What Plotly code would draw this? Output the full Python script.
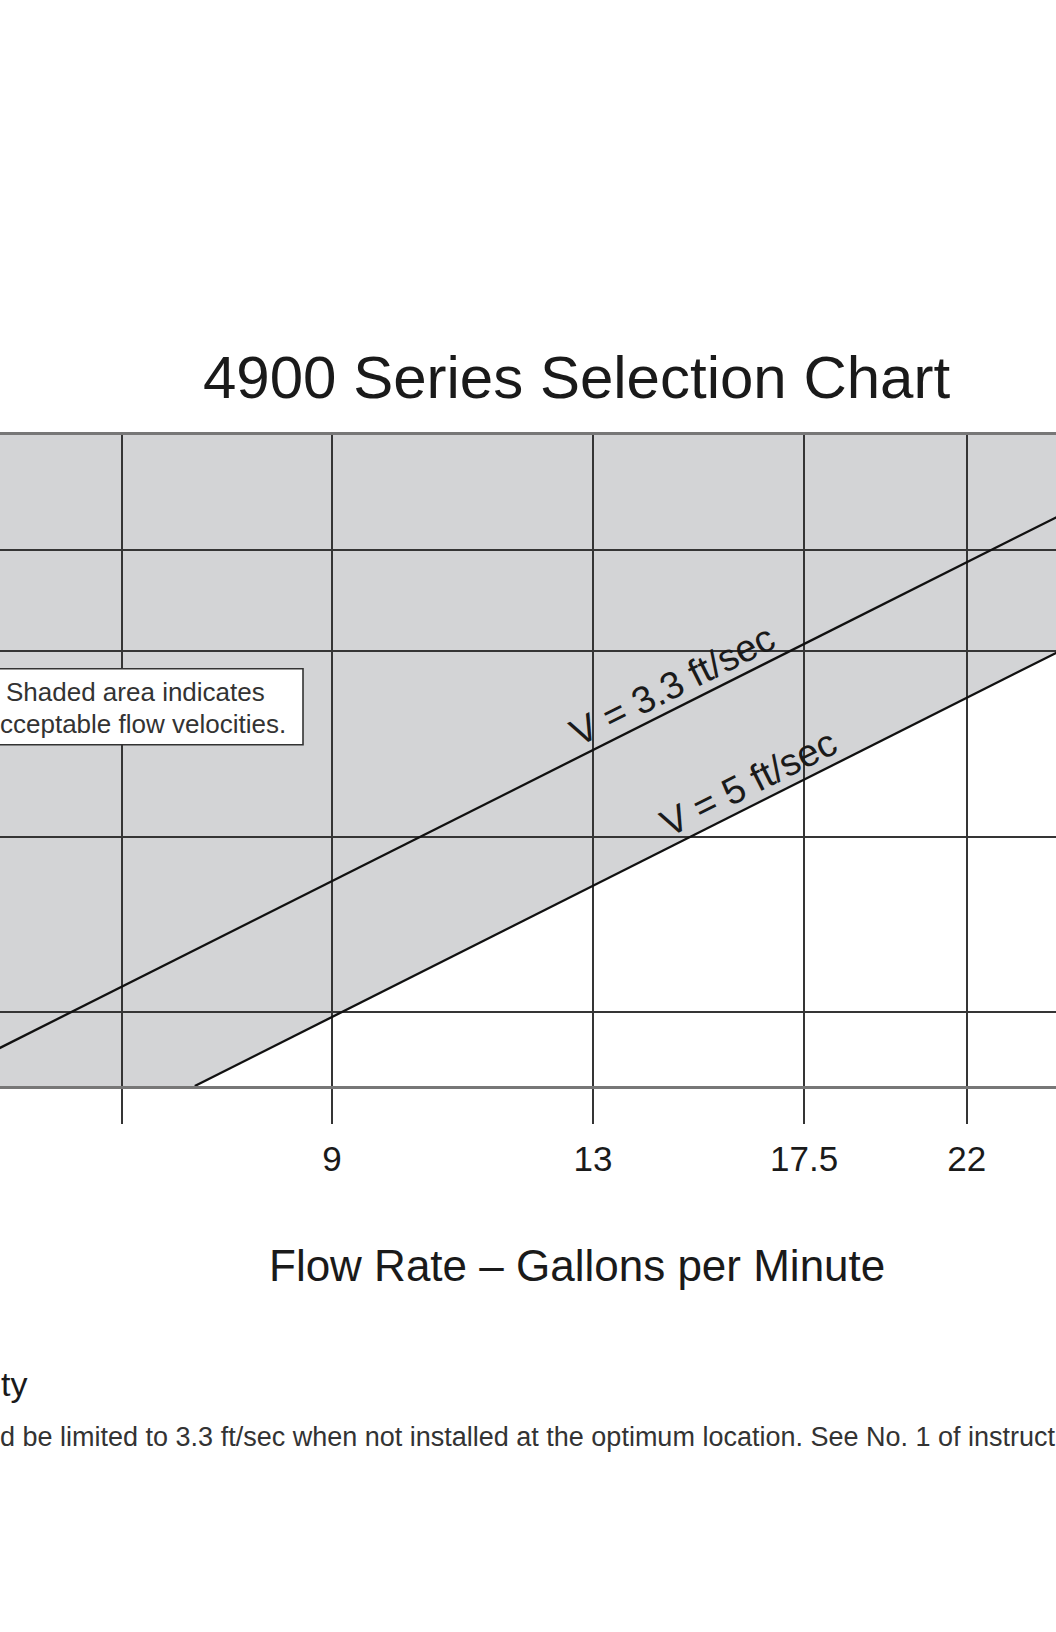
import math
import plotly.graph_objects as go

# ---------------- data ----------------
flow_ticks = [6.7, 9, 13, 17.5, 22]
flow_tick_text = ["", "9", "13", "17.5", "22"]
size_grid = [0.824, 1.053, 1.366, 1.575]          # horizontal grid positions (labels are off-frame)
v33_flow = [5.6, 25.0]
v33_size = [0.781, 1.649]
v5_flow = [7.42, 25.0]
v5_size = [0.743, 1.364]
line_labels = ["V = 3.3 ft/sec", "V = 5 ft/sec"]
label_flow = [14.75, 16.40]
title_text = "4900 Series Selection Chart"
xaxis_title = "Flow Rate – Gallons per Minute"
legend_lines = ["Shaded area indicates", "cceptable flow velocities."]
heading_text = "ty"
note_text = "d be limited to 3.3 ft/sec when not installed at the optimum location. See No. 1 of instruct"

# ---------------- layout constants ----------------
W, H = 1056, 1632
TOP, BOTTOM = 435, 1086.5
X_RANGE = [5.64, 24.95]
Y_RANGE = [0.743, 1.849]
FONT = "Liberation Sans, Arial, Helvetica, sans-serif"
GRID = "#353535"
SHADE = "#d3d4d6"
INK = "#1a1a1a"

lx = [math.log10(v) for v in X_RANGE]
ly = [math.log10(v) for v in Y_RANGE]
kx = W / (lx[1] - lx[0])
ky = (BOTTOM - TOP) / (ly[1] - ly[0])


def py2paper(py):
    return (BOTTOM - py) / (BOTTOM - TOP)


def px2paper(px):
    return px / W


def on_line(flows, sizes, q):
    a = (math.log10(q) - math.log10(flows[0])) / (math.log10(flows[1]) - math.log10(flows[0]))
    return math.log10(sizes[0]) + a * (math.log10(sizes[1]) - math.log10(sizes[0]))


fig = go.Figure()

for fl, sz in [(v33_flow, v33_size), (v5_flow, v5_size)]:
    fig.add_trace(go.Scatter(x=fl, y=sz, mode="lines",
                             line=dict(color="#111111", width=2.3),
                             hoverinfo="skip", showlegend=False))

# white (unacceptable) region below the 5 ft/sec line, beneath the grid
path = "M {},{} L {},{} L {},{} Z".format(v5_flow[0], v5_size[0], v5_flow[1], v5_size[1],
                                         v5_flow[1], Y_RANGE[0])
shapes = [
    dict(type="path", path=path, xref="x", yref="y", fillcolor="white",
         line=dict(width=0), layer="below"),
    dict(type="rect", xref="paper", yref="paper", x0=-0.06, x1=px2paper(303),
         y0=py2paper(745), y1=py2paper(669), fillcolor="white",
         line=dict(color="#333333", width=1.6), layer="above"),
]

annotations = []
for i, (fl, sz) in enumerate([(v33_flow, v33_size), (v5_flow, v5_size)]):
    slope = (math.log10(sz[1]) - math.log10(sz[0])) / (math.log10(fl[1]) - math.log10(fl[0]))
    ang = math.degrees(math.atan(slope * ky / kx))
    off = 22
    annotations.append(dict(
        x=math.log10(label_flow[i]), y=on_line(fl, sz, label_flow[i]), xref="x", yref="y",
        text=line_labels[i], showarrow=False, textangle=-ang,
        xshift=-off * math.sin(math.radians(ang)), yshift=off * math.cos(math.radians(ang)),
        font=dict(family=FONT, size=38, color=INK)))

annotations += [
    dict(x=px2paper(576.5), y=py2paper(377), xref="paper", yref="paper", text=title_text,
         showarrow=False, xanchor="center", yanchor="middle",
         font=dict(family=FONT, size=60, color=INK)),
    dict(x=px2paper(577), y=py2paper(1266), xref="paper", yref="paper", text=xaxis_title,
         showarrow=False, xanchor="center", yanchor="middle",
         font=dict(family=FONT, size=44, color=INK)),
    dict(x=px2paper(4), y=py2paper(692), xref="paper", yref="paper", text=legend_lines[0],
         showarrow=False, xanchor="left", yanchor="middle",
         font=dict(family=FONT, size=26, color="#333333")),
    dict(x=px2paper(288), y=py2paper(724), xref="paper", yref="paper", text=legend_lines[1],
         showarrow=False, xanchor="right", yanchor="middle",
         font=dict(family=FONT, size=26, color="#333333")),
    dict(x=px2paper(-1), y=py2paper(1385), xref="paper", yref="paper", text=heading_text,
         showarrow=False, xanchor="left", yanchor="middle",
         font=dict(family=FONT, size=34, color=INK)),
    dict(x=px2paper(-2), y=py2paper(1438), xref="paper", yref="paper", text=note_text,
         showarrow=False, xanchor="left", yanchor="middle",
         font=dict(family=FONT, size=27, color="#333333")),
]

fig.update_layout(
    width=W, height=H, autosize=False,
    margin=dict(l=0, r=0, t=TOP, b=H - BOTTOM, pad=0),
    paper_bgcolor="white", plot_bgcolor=SHADE,
    showlegend=False,
    shapes=shapes, annotations=annotations,
    font=dict(family=FONT, color=INK),
)
fig.update_xaxes(type="log", range=lx, tickvals=flow_ticks, ticktext=flow_tick_text,
                 showgrid=True, gridcolor=GRID, gridwidth=2,
                 ticks="outside", ticklen=35, tickwidth=2, tickcolor=GRID,
                 ticklabelstandoff=5,
                 tickfont=dict(family=FONT, size=35, color=INK),
                 showline=True, mirror=True, linecolor="#777777", linewidth=2.5,
                 zeroline=False, fixedrange=True)
fig.update_yaxes(type="log", range=ly, tickvals=size_grid, showticklabels=False,
                 showgrid=True, gridcolor=GRID, gridwidth=2, ticks="",
                 showline=False, zeroline=False, fixedrange=True)

fig.write_html("out.html", config={"displayModeBar": False})
